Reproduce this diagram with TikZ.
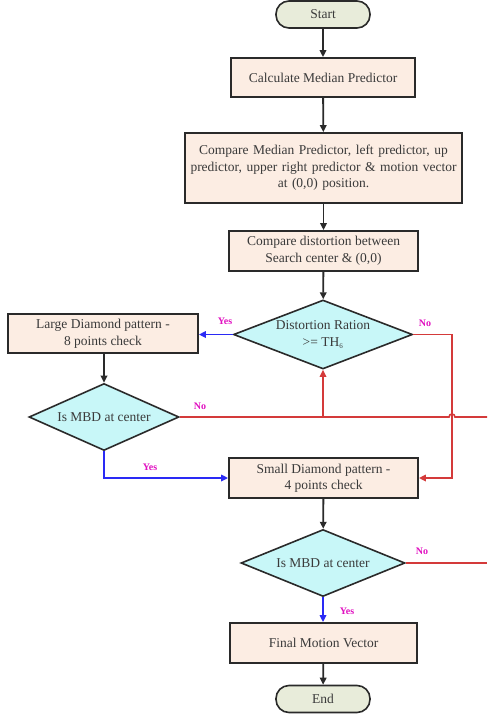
\documentclass[tikz,border=0pt]{standalone}
\usepackage{fontspec}
\setmainfont{Liberation Serif}
\usetikzlibrary{shapes.geometric,arrows.meta}
\definecolor{boxfill}{HTML}{FCEDE3}
\definecolor{dfill}{HTML}{C8F7F8}
\definecolor{pillfill}{HTML}{E8ECDA}
\definecolor{lblcol}{HTML}{E010C0}
\definecolor{redl}{HTML}{D43A3A}
\definecolor{bluel}{HTML}{2A2AF5}
\definecolor{txt}{HTML}{3A3A3A}
\definecolor{edge}{HTML}{2A2A2A}
\tikzset{
  procbox/.style={draw=edge, line width=1.8pt, fill=boxfill, inner sep=0pt, align=center,
    text=txt, font=\fontsize{13.5}{16.5}\selectfont},
  pill/.style={draw=edge, line width=1.6pt, fill=pillfill, rounded corners=13pt, inner sep=0pt,
    minimum width=94pt, minimum height=27pt, text=txt, font=\fontsize{13.5}{15}\selectfont},
  decis/.style={draw=edge, line width=1.6pt, fill=dfill, shape=diamond, inner sep=0pt, align=center,
    text=txt, font=\fontsize{13.5}{16.5}\selectfont},
  blk/.style={draw=edge, line width=1.8pt, -{Triangle[length=7pt,width=6.5pt]}},
  redarr/.style={draw=redl, line width=1.6pt, -{Triangle[length=7pt,width=6.5pt]}},
  redln/.style={draw=redl, line width=1.6pt},
  bluearr/.style={draw=bluel, line width=1.6pt, -{Triangle[length=7pt,width=6.5pt]}},
  lbl/.style={text=lblcol, font=\fontsize{10}{12}\selectfont\bfseries, inner sep=0pt},
}
\begin{document}
\begin{tikzpicture}[x=1pt,y=-1pt]
\useasboundingbox (0,0) rectangle (487,717);
\node[pill] (start) at (323,14.5) {Start};
\node[procbox, minimum width=184pt, minimum height=39pt] (calc) at (323,77.5) {Calculate Median Predictor};
\node[procbox, minimum width=277pt, minimum height=70pt, text width=274pt] (cmp) at (323.5,168)
  {Compare Median Predictor, left predictor, up\\ predictor, upper right predictor \& motion vector\\ at (0,0) position.};
\node[procbox, minimum width=189pt, minimum height=40pt] (dist) at (323.5,251)
  {Compare distortion between\\ Search center \& (0,0)};
\node[decis, minimum width=179pt, minimum height=69pt, aspect=2.6] (dd) at (323,334.5)
  {Distortion Ration\\ {>}= TH\textsubscript{\fontsize{7}{7}\selectfont 6}};
\node[procbox, minimum width=190pt, minimum height=39pt] (large) at (103,333.5)
  {Large Diamond pattern -\\ 8 points check};
\node[decis, minimum width=150pt, minimum height=67pt, aspect=2.24] (mbd1) at (104,417) {Is MBD at center};
\node[procbox, minimum width=189pt, minimum height=40pt] (small) at (323.5,478)
  {Small Diamond pattern -\\ 4 points check};
\node[decis, minimum width=164pt, minimum height=67pt, aspect=2.45] (mbd2) at (323,563) {Is MBD at center};
\node[procbox, minimum width=187pt, minimum height=40pt] (final) at (323.5,643) {Final Motion Vector};
\node[pill] (end) at (323,699) {End};

\coordinate (j1) at (323,417);
\coordinate (h1) at (449,417);
\coordinate (r1) at (487,417);
\coordinate (r2) at (487,563);
\coordinate (c1) at (452,334.5);

% black flow
\draw[blk] (start) -- (calc);
\draw[blk] (calc) -- (cmp);
\draw[blk] (cmp) -- (dist);
\draw[blk] (dist) -- (dd);
\draw[blk] (large.south -| mbd1.north) -- (mbd1.north);
\draw[blk] (small) -- (mbd2);
\draw[blk] (final) -- (end);

% blue yes
\draw[bluearr] (dd.west) -- (dd.west -| large.east);
\draw[bluearr] (mbd1.south) |- (small.west);
\draw[bluearr] (mbd2.south) -- (mbd2.south |- final.north);

% red no
\draw[redln] (mbd1.east) -- (h1) arc[start angle=180, end angle=0, radius=3pt] -- (r1);
\draw[redarr] (j1) -- (dd.south);
\draw[redarr] (dd.east) -- (c1) |- (small.east);
\draw[redln] (mbd2.east) -- (r2);

% labels
\node[lbl] (y1) at (225,321) {Yes};
\node[lbl] (n1) at (425,323) {No};
\node[lbl] (n2) at (200,406) {No};
\node[lbl] (y2) at (150,467) {Yes};
\node[lbl] (n3) at (422,551) {No};
\node[lbl] (y3) at (347,611) {Yes};
\end{tikzpicture}
\end{document}
